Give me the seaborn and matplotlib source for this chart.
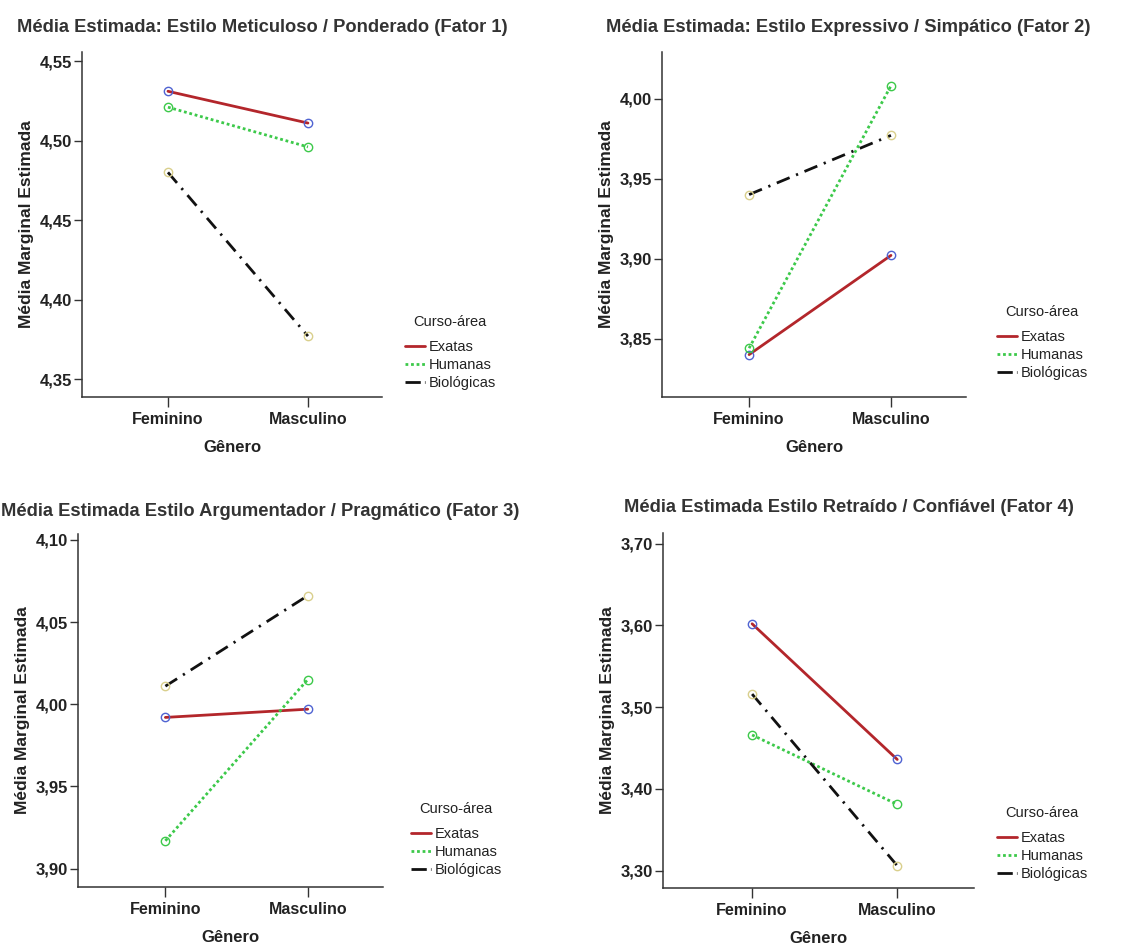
import numpy as np
import pandas as pd
import seaborn as sns
import matplotlib
matplotlib.use("Agg")
import matplotlib.pyplot as plt
from matplotlib.lines import Line2D
from matplotlib.ticker import FuncFormatter

# ---------------- data ----------------
generos = ["Feminino", "Masculino"]
cursos = ["Exatas", "Humanas", "Biológicas"]

f1_exatas = [4.531, 4.511]
f1_humanas = [4.521, 4.496]
f1_biologicas = [4.480, 4.377]

f2_exatas = [3.840, 3.902]
f2_humanas = [3.844, 4.008]
f2_biologicas = [3.940, 3.977]

f3_exatas = [3.992, 3.997]
f3_humanas = [3.917, 4.015]
f3_biologicas = [4.011, 4.066]

f4_exatas = [3.602, 3.436]
f4_humanas = [3.466, 3.381]
f4_biologicas = [3.516, 3.306]

titles = [
    "Média Estimada: Estilo Meticuloso / Ponderado (Fator 1)",
    "Média Estimada: Estilo Expressivo / Simpático (Fator 2)",
    "Média Estimada Estilo Argumentador / Pragmático (Fator 3)",
    "Média Estimada Estilo Retraído / Confiável (Fator 4)",
]
yticks = [
    [4.35, 4.40, 4.45, 4.50, 4.55],
    [3.85, 3.90, 3.95, 4.00],
    [3.90, 3.95, 4.00, 4.05, 4.10],
    [3.30, 3.40, 3.50, 3.60, 3.70],
]
ylims = [(4.3387, 4.5557), (3.8135, 4.0291), (3.8889, 4.1035), (3.2787, 3.7131)]

series = [
    (f1_exatas, f1_humanas, f1_biologicas),
    (f2_exatas, f2_humanas, f2_biologicas),
    (f3_exatas, f3_humanas, f3_biologicas),
    (f4_exatas, f4_humanas, f4_biologicas),
]

# ---------------- style ----------------
sns.set_style("white")
plt.rcParams["font.family"] = ["Liberation Sans", "DejaVu Sans"]
TXT = "#222222"

line_colors = {"Exatas": "#B3262B", "Humanas": "#3CC94A", "Biológicas": "#111111"}
marker_colors = {"Exatas": "#4F63D2", "Humanas": "#3CC94A", "Biológicas": "#D9CF8C"}
dash_map = {"Exatas": "", "Humanas": (1, 1), "Biológicas": (5, 2.5, 0.8, 2.5)}
legend_dash = {"Exatas": "-", "Humanas": (0, (1, 1)), "Biológicas": (0, (5.5, 1.5, 1, 1.5))}
marker_map = {c: "o" for c in cursos}

fig = plt.figure(figsize=(11.37, 9.47), dpi=100)
W, H = 1137, 947

# axes rectangles in pixels: left, right, top, bottom
rects = [
    (82, 382, 52, 397),
    (662, 966, 52, 397),
    (78, 383, 534, 887),
    (663, 974, 533, 888),
]
# title placement (x, y, ha)
title_pos = [(262, 27, "center"), (848, 27, "center"), (519, 512, "right"), (849, 508, "center")]
# legend anchor (x, y top) in pixels
legend_pos = [(405, 315), (997, 305), (411, 802), (997, 806)]

def comma_fmt(v, pos):
    return f"{v:.2f}".replace(".", ",")

for i in range(4):
    l, r, t, b = rects[i]
    ax = fig.add_axes([l / W, 1 - b / H, (r - l) / W, (b - t) / H])
    ex, hu, bi = series[i]
    df = pd.DataFrame({
        "Gênero": generos * 3,
        "Curso": [cursos[0]] * 2 + [cursos[1]] * 2 + [cursos[2]] * 2,
        "Media": list(ex) + list(hu) + list(bi),
    })
    sns.lineplot(
        data=df, x="Gênero", y="Media", hue="Curso", style="Curso",
        hue_order=cursos, style_order=cursos, palette=line_colors,
        dashes=dash_map, markers=marker_map, markersize=6, linewidth=2.0,
        sort=False, legend=False, ax=ax,
    )
    # hollow coloured markers as in the reference
    for ln in ax.lines:
        col = matplotlib.colors.to_hex(ln.get_color()).lower()
        for c in cursos:
            if matplotlib.colors.to_hex(line_colors[c]).lower() == col:
                ln.set_markerfacecolor("none")
                ln.set_markeredgecolor(marker_colors[c])
                ln.set_markeredgewidth(1.0)

    ax.set_xlim(-0.614, 1.529)
    ax.set_ylim(*ylims[i])
    ax.set_yticks(yticks[i])
    ax.yaxis.set_major_formatter(FuncFormatter(comma_fmt))
    for s in ["top", "right"]:
        ax.spines[s].set_visible(False)
    for s in ["left", "bottom"]:
        ax.spines[s].set_color("#333333")
        ax.spines[s].set_linewidth(1.1)
    ax.tick_params(axis="x", length=7.5, width=1, color="#333333", pad=3,
                   labelsize=11.5, labelcolor=TXT, bottom=True)
    ax.tick_params(axis="y", length=5.5, width=1, color="#333333", pad=1.5,
                   labelsize=12, labelcolor=TXT, left=True)
    for lab in ax.get_xticklabels() + ax.get_yticklabels():
        lab.set_fontweight("bold")
    ax.set_xlabel("Gênero", fontsize=12, fontweight="bold", color=TXT, labelpad=10)
    ax.set_ylabel("Média Marginal Estimada", fontsize=12.5, fontweight="bold",
                  color=TXT, labelpad=4)

    tx, ty, ha = title_pos[i]
    fig.text(tx / W, 1 - ty / H, titles[i], ha=ha, va="center",
             fontsize=13.2, fontweight="bold", color="#333333")

    handles = [
        Line2D([], [], color=line_colors[c], linewidth=2.0, linestyle=legend_dash[c])
        for c in cursos
    ]
    lx, ly = legend_pos[i]
    leg = ax.legend(handles, cursos, title="Curso-área", loc="upper left",
                    bbox_to_anchor=(lx / W, 1 - ly / H), bbox_transform=fig.transFigure,
                    frameon=False, fontsize=10.5, title_fontsize=10.5,
                    handlelength=1.35, handletextpad=0.25, labelspacing=0.27,
                    borderpad=0, borderaxespad=0)
    leg._legend_box.sep = 8
    for txt in leg.get_texts():
        txt.set_color(TXT)
    leg.get_title().set_color(TXT)

fig.savefig("out.png", dpi=100)
